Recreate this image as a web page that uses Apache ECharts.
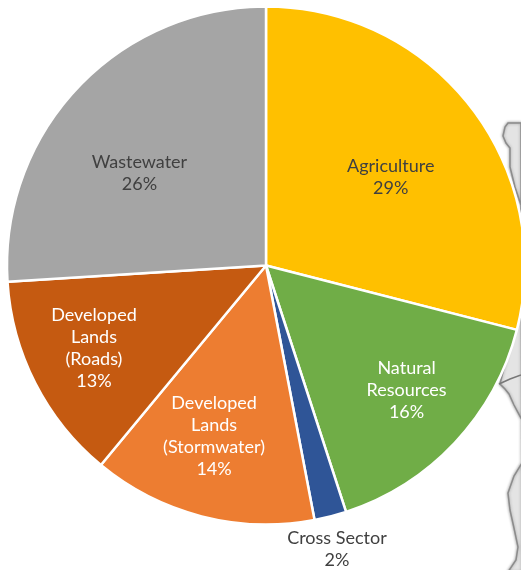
<!DOCTYPE html>
<html>
<head>
<meta charset="utf-8">
<style>html,body{margin:0;padding:0;background:#fff}#c{width:521px;height:570px}</style>
<script src="https://cdn.jsdelivr.net/npm/echarts@6/dist/echarts.min.js"></script>
</head>
<body>
<div id="c"></div>
<script>
// Share of the total by sector, clockwise from twelve o'clock
const categories = ['Agriculture', 'Natural\nResources', 'Cross Sector', 'Developed\nLands\n(Stormwater)', 'Developed\nLands\n(Roads)', 'Wastewater'];
const shares = [29, 16, 2, 14, 13, 26];
const sliceColors = ['#FFC000', '#70AD47', '#2F5597', '#ED7D31', '#C55A11', '#A5A5A5'];
const labelColors = ['#404040', '#ffffff', '#404040', '#ffffff', '#ffffff', '#404040'];
// Label nudges away from the default position of each slice
const labelShift = [[20, -7], [44, 34], [38, 155], [-19, 42], [-54, 23], [-30, -2]];

// Coastline showing behind the pie, plus a boundary line across the land
const coast = [[521,123],[508,123],[505,127],[503,136],[506,143],[510,148],[510,167],[515,187],[521,205],[521,300],[500,384],[505,389],[509,394],[514,405],[522,420],[522,463],[514,476],[508,493],[510,510],[514,528],[518,547],[516,560],[508,572],[522,572]];
const boundary = [[499,384],[510,379],[521,375]];

const chart = echarts.init(document.getElementById('c'), null, { renderer: 'canvas' });
chart.setOption({
  animation: false,
  backgroundColor: '#ffffff',
  graphic: [
    { type: 'polygon', silent: true, z: 0, shape: { points: coast },
      style: { fill: '#e4e4e4', stroke: '#8c8c8c', lineWidth: 1.5, shadowBlur: 3, shadowColor: '#999999' } },
    { type: 'polyline', silent: true, z: 0, shape: { points: boundary },
      style: { fill: 'none', stroke: '#777777', lineWidth: 1.5 } }
  ],
  series: [{
    type: 'pie',
    z: 5,
    center: [266, 265.5],
    radius: [0, 259],
    startAngle: 90,
    clockwise: true,
    silent: true,
    itemStyle: { borderColor: '#ffffff', borderWidth: 2.5 },
    label: {
      position: 'inside',
      fontFamily: 'Lato',
      fontSize: 18,
      lineHeight: 22,
      align: 'center',
      formatter: (p) => p.name + '\n' + p.value + '%'
    },
    labelLine: { show: false },
    labelLayout: (p) => ({ dx: labelShift[p.dataIndex][0], dy: labelShift[p.dataIndex][1] }),
    data: categories.map((name, i) => ({
      name,
      value: shares[i],
      itemStyle: { color: sliceColors[i] },
      label: { color: labelColors[i] }
    }))
  }]
});
</script>
</body>
</html>
